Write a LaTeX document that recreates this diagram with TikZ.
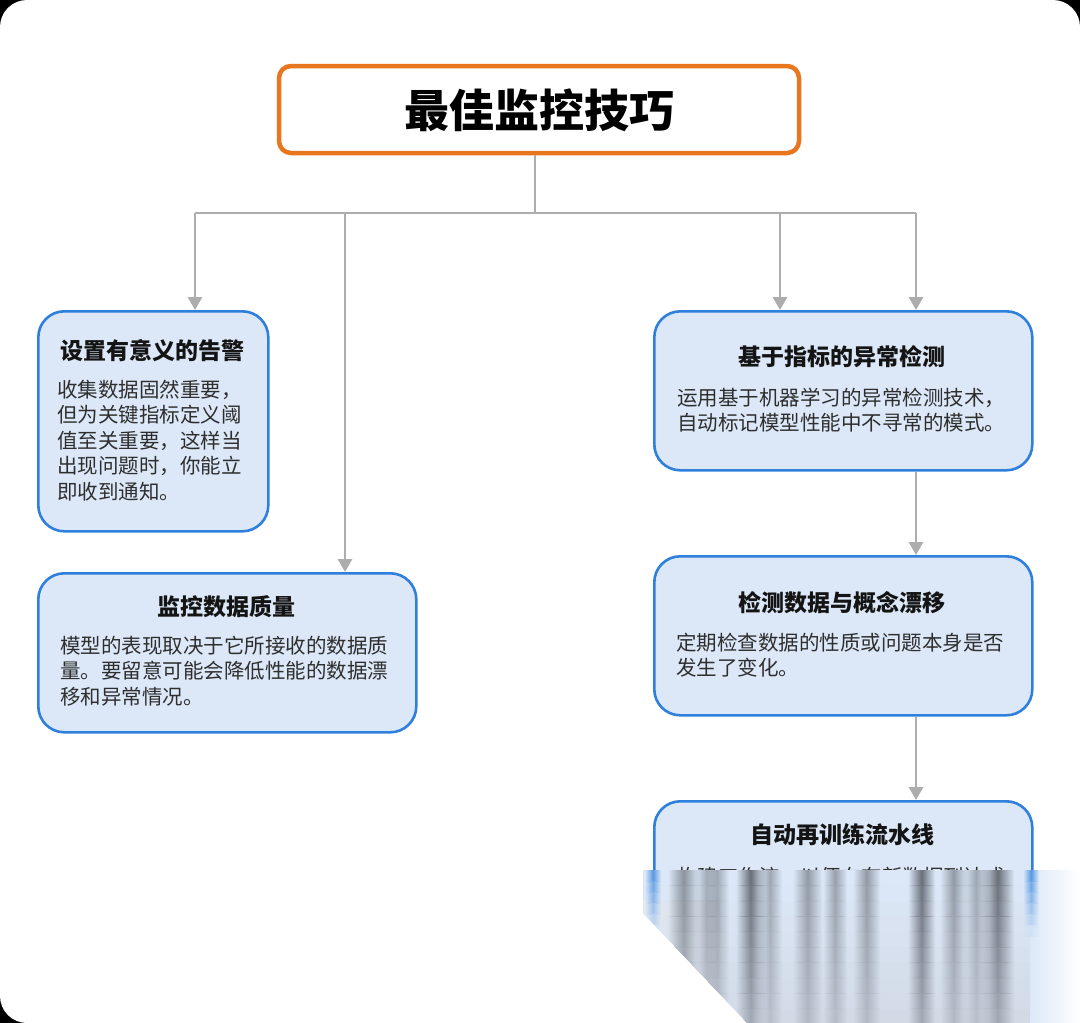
\documentclass[tikz,border=0pt]{standalone}
\usepackage{fontspec}
\newfontfamily\cjk{Noto Sans CJK SC}
\usetikzlibrary{arrows.meta,fadings}
\definecolor{boxfill}{HTML}{DCE8F8}
\definecolor{boxline}{HTML}{2F80DD}
\definecolor{connc}{HTML}{ADADAD}
\definecolor{orangeline}{HTML}{E8761E}
\definecolor{bodytext}{HTML}{2E2E2E}
\definecolor{fadebot}{HTML}{D2DAE6}
\definecolor{fadeleft}{HTML}{E6EBF1}
\definecolor{streaktop}{HTML}{555A63}
\definecolor{streakbot}{HTML}{98A0AC}
\tikzfading[name=hsoft, left color=transparent!100, right color=transparent!100, middle color=transparent!0]
\tikzset{
  card/.style={draw=boxline, line width=2.6pt, fill=boxfill, rounded corners=26pt, anchor=north west, inner sep=0pt},
  connline/.style={draw=connc, line width=2.8pt},
  arr/.style={connline, -{Triangle[width=14pt,length=13pt]}},
  btitle/.style={font=\cjk\bfseries\fontsize{23}{28}\selectfont, text=black!92, inner sep=0pt, anchor=center},
  bline/.style={font=\cjk\fontsize{20.5}{25}\selectfont, text=bodytext, inner sep=0pt, anchor=base west},
}
\begin{document}
\begin{tikzpicture}[x=1pt,y=-1pt]
\useasboundingbox (0,0) rectangle (1080,1023);
% background card
\fill[black] (0,0) rectangle (1080,1023);
\fill[white, rounded corners=27pt] (0,0) rectangle (1080,1023);
\fill[white] (1000,940) rectangle (1080,1023);

% title
\node[draw=orangeline, line width=4.5pt, rounded corners=12pt, minimum width=520pt, minimum height=87pt, fill=white, inner sep=0pt] (t) at (539,109.5) {};
\node[font=\cjk\bfseries\fontsize{45}{50}\selectfont, inner sep=0pt] (tt) at (539,110) {最佳监控技巧};

% boxes
\node[card, minimum width=230pt, minimum height=220pt] (b1) at (37,310) {};
\node[card, minimum width=378pt, minimum height=159pt] (b2) at (37,572) {};
\node[card, minimum width=378pt, minimum height=159pt] (b3) at (653,310) {};
\node[card, minimum width=378pt, minimum height=159pt] (b4) at (653,555) {};
\begin{scope}
\clip (600,780) rectangle (1080,871);
\node[card, minimum width=378pt, minimum height=300pt] (b5) at (653,800) {};
\end{scope}

% connectors
\coordinate (j0) at (535,213);
\coordinate (bA) at (195,213);
\coordinate (bB) at (345,213);
\coordinate (bC) at (780,213);
\coordinate (bD) at (916,213);
\draw[connline] (t.south -| j0) -- (j0);
\draw[connline, line cap=square] (bA) -- (bD);
\draw[arr] (bA) -- (bA |- b1.north);
\draw[arr] (bB) -- (bB |- b2.north);
\draw[arr] (bC) -- (bC |- b3.north);
\draw[arr] (bD) -- (bD |- b3.north);
\draw[arr] (bD |- b3.south) -- (bD |- b4.north);
\draw[arr] (bD |- b4.south) -- (bD |- b5.north);

% box 1
\node[btitle] (b1t) at (152,351) {设置有意义的告警};
\node[bline] (b1a) at (57,397) {收集数据固然重要，};
\node[bline] (b1b) at (57,422.5) {但为关键指标定义阈};
\node[bline] (b1c) at (57,448) {值至关重要，这样当};
\node[bline] (b1d) at (57,473.5) {出现问题时，你能立};
\node[bline] (b1e) at (57,499) {即收到通知。};

% box 2
\node[btitle] (b2t) at (226,607) {监控数据质量};
\node[bline] (b2a) at (60,653) {模型的表现取决于它所接收的数据质};
\node[bline] (b2b) at (60,678.5) {量。要留意可能会降低性能的数据漂};
\node[bline] (b2c) at (60,704) {移和异常情况。};

% box 3
\node[btitle] (b3t) at (842,357) {基于指标的异常检测};
\node[bline] (b3a) at (677,405) {运用基于机器学习的异常检测技术，};
\node[bline] (b3b) at (677,430.5) {自动标记模型性能中不寻常的模式。};

% box 4
\node[btitle] (b4t) at (842,603) {检测数据与概念漂移};
\node[bline] (b4a) at (676,650) {定期检查数据的性质或问题本身是否};
\node[bline] (b4b) at (676,675.5) {发生了变化。};

% box 5
\node[btitle] (b5t) at (842,835) {自动再训练流水线};
\begin{scope}
\clip (600,850) rectangle (1080,871);
\node[bline] (b5a) at (677,884) {构建工作流，以便在有新数据到达或};
\end{scope}

% faded bottom-right region, built from horizontal bands (top = y 870)
\begin{scope}
\clip (643,870) -- (1080,870) -- (1080,1023) -- (747,1023) -- (643,913) -- cycle;
\foreach \i in {0,...,9}{
  \pgfmathsetmacro{\ya}{870+\i*15.4}
  \pgfmathsetmacro{\yb}{\ya+16}
  \pgfmathsetmacro{\p}{\i*11}
  \fill[fadebot!\p!boxfill] (640,\ya) rectangle (1080,\yb);
}
\shade[left color=fadeleft, right color=fadebot, opacity=0.8] (640,900) rectangle (720,1023);
\foreach \a/\b/\o in {675/692/0.6, 702/710/0.4, 712/722/0.45, 743/758/0.85, 765/775/0.45, 800/815/0.55, 830/840/0.5, 860/873/0.55, 915/928/0.85, 947/960/0.55, 970/982/0.45, 988/1007/0.85}{
  \begin{scope}[transparency group, opacity=\o]
  \foreach \i in {0,...,9}{
    \pgfmathsetmacro{\ya}{870+\i*15.4}
    \pgfmathsetmacro{\yb}{\ya+16}
    \pgfmathsetmacro{\p}{\i*11}
    \fill[streakbot!\p!streaktop, path fading=hsoft] (\a-7,\ya) rectangle (\b+7,\yb);
  }
  \end{scope}
}
\shade[left color=boxfill, right color=white] (1030,870) rectangle (1080,1023);
\begin{scope}[transparency group, opacity=0.75]
\foreach \i in {0,...,5}{
  \pgfmathsetmacro{\ya}{870+\i*11}
  \pgfmathsetmacro{\yb}{\ya+11.5}
  \pgfmathsetmacro{\q}{100-\i*18}
  \fill[boxline!\q!boxfill, path fading=hsoft] (645,\ya) rectangle (661,\yb);
  \fill[boxline!\q!boxfill, path fading=hsoft] (1023,\ya) rectangle (1039,\yb);
}
\end{scope}
\end{scope}
\end{tikzpicture}
\end{document}
